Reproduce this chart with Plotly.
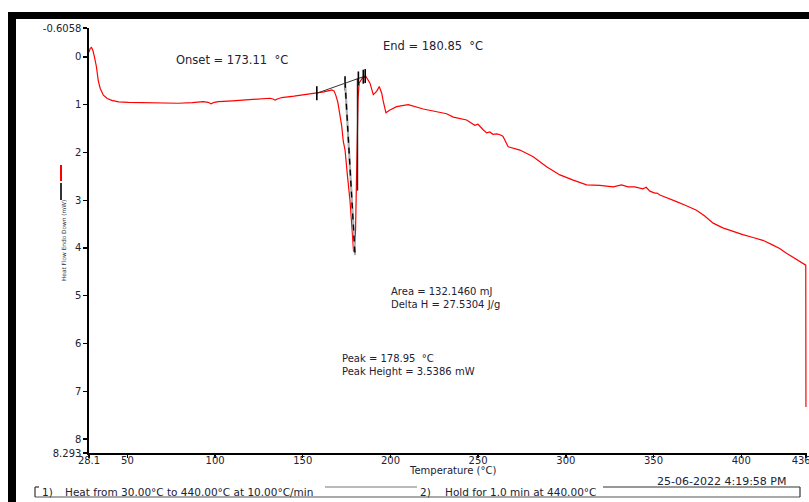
import plotly.graph_objects as go

# ---------------- data ----------------
temp = [28.1, 28.8, 29.5, 30.3, 31.2, 32.3, 33.4, 34.5, 36.3, 38.5, 41.1, 45.0, 50.6,
        60.0, 70.0, 79.1, 87.0, 93.3, 96.0, 97.7, 99.5, 101.9, 110.0, 120.0, 131.3,
        133.0, 134.2, 135.5, 138.0, 145.0, 152.0, 157.0, 162.0, 165.5, 166.5, 167.8,
        168.8, 170.0, 171.2, 172.2, 173.1, 174.1, 175.5, 176.9, 178.1, 178.95, 179.6,
        180.1, 180.5, 180.9, 181.5, 182.1, 183.8, 186.0, 188.3, 190.2, 192.1, 193.6,
        194.3, 195.0, 195.9, 197.4, 199.7, 203.5, 210.1, 218.7, 232.0, 235.8, 243.4,
        247.0, 248.1, 249.9, 251.0, 252.7, 254.8, 256.7, 258.4, 260.7, 262.4, 264.1,
        265.2, 267.1, 273.8, 281.4, 289.0, 296.6, 304.2, 311.8, 319.4, 327.0, 331.7,
        335.5, 339.3, 343.9, 345.8, 347.9, 350.7, 352.0, 353.6, 358.1, 363.1, 368.4,
        374.5, 379.2, 384.0, 389.5, 395.4, 400.9, 406.7, 412.3, 418.1, 421.9, 425.8,
        431.1, 436.8, 436.9]
heat_flow = [-0.10, -0.18, -0.20, -0.14, 0.00, 0.20, 0.50, 0.66, 0.80, 0.87, 0.91, 0.94, 0.95,
             0.96, 0.97, 0.97, 0.955, 0.935, 0.95, 0.98, 0.95, 0.935, 0.92, 0.895, 0.865,
             0.88, 0.905, 0.88, 0.85, 0.82, 0.785, 0.76, 0.73, 0.70, 0.69, 0.71,
             0.80, 0.95, 1.18, 1.45, 1.77, 1.95, 2.50, 3.00, 3.60, 4.08, 3.95,
             3.60, 2.80, 1.90, 0.90, 0.55, 0.45, 0.41, 0.55, 0.79, 0.72, 0.62,
             0.69, 0.76, 0.93, 1.17, 1.11, 1.04, 1.00, 1.09, 1.19, 1.26, 1.32,
             1.40, 1.43, 1.41, 1.46, 1.52, 1.59, 1.57, 1.62, 1.61, 1.63, 1.66,
             1.74, 1.88, 1.95, 2.09, 2.30, 2.47, 2.58, 2.68, 2.69, 2.72, 2.68,
             2.72, 2.72, 2.76, 2.73, 2.81, 2.85, 2.85, 2.89, 2.95, 3.03, 3.11,
             3.21, 3.33, 3.48, 3.58, 3.66, 3.72, 3.78, 3.84, 3.94, 4.01, 4.11,
             4.23, 4.36, 7.33]

baseline_t = [158.0, 185.6]
baseline_v = [0.76, 0.40]
baseline_ticks_t = [158.0, 174.1, 181.7, 184.5, 185.6]
tangent_t = [174.1, 179.8]
tangent_v = [0.52, 4.15]
end_line_t = [181.2, 181.2]
end_line_v = [0.45, 2.80]

x_tickvals = [28.1, 50, 100, 150, 200, 250, 300, 350, 400, 436.9]
x_ticktext = ["28.1", "50", "100", "150", "200", "250", "300", "350", "400", "436.9"]
y_tickvals = [-0.6058, 0, 1, 2, 3, 4, 5, 6, 7, 8, 8.293]
y_ticktext = ["-0.6058", "0", "1", "2", "3", "4", "5", "6", "7", "8", "8.293"]

# ---------------- layout helpers (picture pixels -> paper) ----------------
W, H = 809, 502
ML, MT = 89, 28
PLOT_R, PLOT_B = 807, 453
MR, MB = W - PLOT_R, H - PLOT_B
PW, PH = PLOT_R - ML, PLOT_B - MT


def px(x):
    return (x - ML) / PW


def py(y):
    return (PLOT_B - y) / PH


FONT = "DejaVu Sans"
TXT = "#222233"

fig = go.Figure()

fig.add_trace(go.Scatter(x=temp, y=heat_flow, mode="lines",
                         line=dict(color="#ff0000", width=1.2), showlegend=False,
                         hoverinfo="skip"))

# baseline with ticks
fig.add_trace(go.Scatter(x=baseline_t, y=baseline_v, mode="lines",
                         line=dict(color="#333333", width=1), showlegend=False))
slope = (baseline_v[1] - baseline_v[0]) / (baseline_t[1] - baseline_t[0])
tick_v = [baseline_v[0] + slope * (t - baseline_t[0]) for t in baseline_ticks_t]
fig.add_trace(go.Scatter(x=baseline_ticks_t, y=tick_v, mode="markers",
                         marker=dict(symbol="line-ns", size=10,
                                     line=dict(color="black", width=1.6)),
                         showlegend=False))

# leading-edge tangent (grey under black dash)
fig.add_trace(go.Scatter(x=tangent_t, y=tangent_v, mode="lines",
                         line=dict(color="#b0b0b0", width=2.2), showlegend=False))
fig.add_trace(go.Scatter(x=tangent_t, y=tangent_v, mode="lines",
                         line=dict(color="black", width=1.4, dash="6px,5px"),
                         showlegend=False))
# end line
fig.add_trace(go.Scatter(x=end_line_t, y=end_line_v, mode="lines",
                         line=dict(color="#222222", width=1.4), showlegend=False))

axis_common = dict(showline=True, linecolor="black", linewidth=1.6, ticks="outside",
                   tickcolor="black", tickwidth=1.4, showgrid=False, zeroline=False,
                   tickfont=dict(family=FONT, size=10, color=TXT), fixedrange=True,
                   ticklabeloverflow="allow")

fig.update_layout(
    width=W, height=H,
    margin=dict(l=ML, r=MR, t=MT, b=MB, autoexpand=False),
    paper_bgcolor="white", plot_bgcolor="white",
    xaxis=dict(range=[28.1, 437.5], tickmode="array", tickvals=x_tickvals,
               ticktext=x_ticktext, ticklen=3, ticklabelstandoff=-6, **axis_common),
    yaxis=dict(range=[8.293, -0.6058], tickmode="array", tickvals=y_tickvals,
               ticktext=y_ticktext, ticklen=4, **axis_common),
    showlegend=False,
)

annots = [
    ("Onset = 173.11  °C", 174, 60, "left", 11.5),
    ("End = 180.85  °C", 381, 46, "left", 11.5),
    ("Area = 132.1460 mJ<br>Delta H = 27.5304 J/g", 389, 298, "left", 10),
    ("Peak = 178.95  °C<br>Peak Height = 3.5386 mW", 340, 365, "left", 10),
    ("Temperature (°C)", 452, 471, "center", 10),
    ("25-06-2022 4:19:58 PM", 655, 481, "left", 11),
    ("1)", 40, 492, "left", 10.5),
    ("Heat from 30.00°C to 440.00°C at 10.00°C/min", 63, 492, "left", 10.5),
    ("2)", 418, 492, "left", 10.5),
    ("Hold for 1.0 min at 440.00°C", 443, 492, "left", 10.5),
]
for text, x, y, anc, size in annots:
    fig.add_annotation(text=text.replace("  ", "\u00a0\u00a0"), x=px(x), y=py(y),
                       xref="paper", yref="paper", xanchor=anc, yanchor="middle",
                       align="left", showarrow=False,
                       font=dict(family=FONT, size=size, color=TXT))

fig.add_annotation(text="Heat Flow Endo Down (mW)", x=px(64), y=py(241), xref="paper",
                   yref="paper", textangle=-90, showarrow=False, xanchor="center",
                   yanchor="middle", font=dict(family=FONT, size=5.8, color="#334"))

shapes = []
# black frame bands
shapes.append(dict(type="rect", xref="paper", yref="paper", x0=px(8), x1=px(815),
                   y0=py(19), y1=py(12), fillcolor="black", line=dict(width=0)))
shapes.append(dict(type="rect", xref="paper", yref="paper", x0=px(8), x1=px(16),
                   y0=py(510), y1=py(12), fillcolor="black", line=dict(width=0)))
# legend marks near y title
shapes.append(dict(type="line", xref="paper", yref="paper", x0=px(61), x1=px(61),
                   y0=py(165), y1=py(181), line=dict(color="#ff0000", width=2)))
shapes.append(dict(type="line", xref="paper", yref="paper", x0=px(61), x1=px(61),
                   y0=py(183), y1=py(200), line=dict(color="#333333", width=2)))
# method step boxes
box_lines = [
    (35, 497, 800, 497, "#555555"),
    (35, 487, 35, 497, "#333333"),
    (35, 487, 39, 487, "#333333"),
    (325, 487, 417, 487, "#777777"),
    (603, 487, 800, 487, "#333333"),
    (800, 487, 800, 497, "#333333"),
]
for x0, y0, x1, y1, c in box_lines:
    shapes.append(dict(type="line", xref="paper", yref="paper", x0=px(x0), x1=px(x1),
                       y0=py(y0), y1=py(y1), line=dict(color=c, width=1.2)))
fig.update_layout(shapes=shapes)

fig.write_html(
    "out.html",
    config={"displayModeBar": False, "staticPlot": True},
    post_script="document.body.style.margin='0';document.body.style.overflow='hidden';",
)
